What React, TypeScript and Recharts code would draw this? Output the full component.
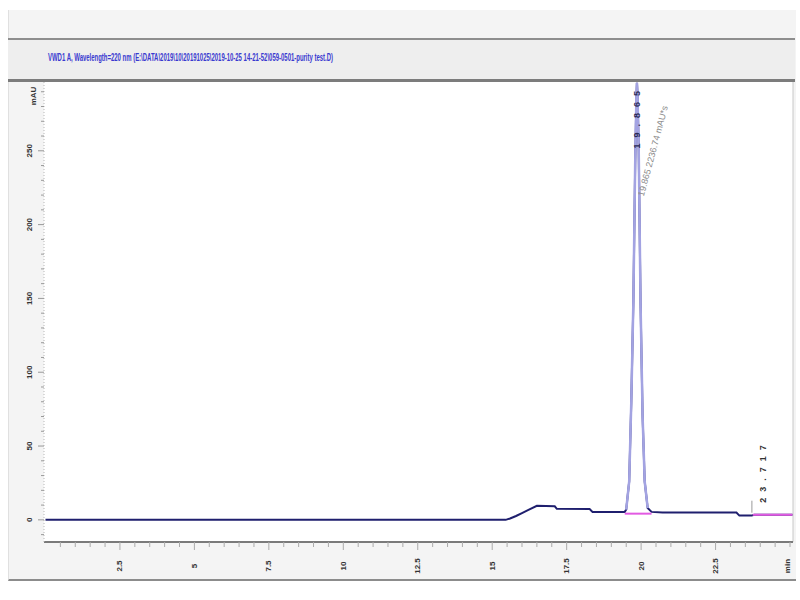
import React from 'react';
import { ComposedChart, Line, XAxis, YAxis, CartesianGrid, ReferenceDot, ReferenceLine } from 'recharts';

// retention time (min)
const times = [0, 15.45, 15.6, 15.8, 16.0, 16.2, 16.5, 17.1, 17.17, 18.27, 18.37, 19.45, 19.5, 19.6, 19.67, 19.74, 19.8, 19.84, 19.86, 19.88, 19.92, 19.98, 20.05, 20.12, 20.22, 20.35, 20.72, 23.2, 23.3, 23.71, 23.8, 25.08];
// detector signal (mAU)
const signal = [0, 0, 0.9, 2.6, 4.6, 6.6, 9.5, 9.2, 7.5, 7.3, 5.4, 5.4, 7, 26, 80, 148, 240, 285, 296, 288, 250, 148, 70, 26, 8, 5.4, 5.0, 5.0, 2.9, 2.9, 3.5, 3.5];

const peakStart = 19.5;
const peakEnd = 20.22;

const baseline1 = [{ t: 19.45, bl: 4.2 }, { t: 20.35, bl: 4.2 }];
const baseline2 = [{ t: 23.75, bl: 3.4 }, { t: 25.08, bl: 3.4 }];

const yLabels = [0, 50, 100, 150, 200, 250];
const xLabels = [2.5, 5, 7.5, 10, 12.5, 15, 17.5, 20, 22.5];
const yMinorStep = 10;
const xMinorStep = 0.5;

const peakApex = { t: 19.86, v: 296, rt: '19.865', info: '19.865  2236.74 mAU*s' };
const smallPeak = { t: 23.72, v: 3.5, rt: '23.717' };

const headerText = 'VWD1 A, Wavelength=220 nm (E:\\DATA\\2019\\10\\20191025\\2019-10-25 14-21-52\\059-0501-purity test.D)';

const Y_DOMAIN: [number, number] = [-15, 296.6];
const X_DOMAIN: [number, number] = [-0.05, 25.1];

const data = times.map((t, i) => ({
  t,
  v: signal[i],
  pk: t >= peakStart && t <= peakEnd ? signal[i] : null,
}));

const yTicks: number[] = [];
for (let v = -10; v <= 290; v += yMinorStep) yTicks.push(v);
const xTicks: number[] = [];
for (let k = 1; k * xMinorStep <= 25; k++) xTicks.push(k * xMinorStep);

const isLabel = (arr: number[], v: number) => arr.some((a) => Math.abs(a - v) < 1e-6);

const YTick = (props: any) => {
  const { x, y, payload } = props;
  const major = isLabel(yLabels, payload.value);
  return (
    <g>
      <line x1={x - (major ? 6 : 3)} x2={x} y1={y} y2={y} stroke="#999" strokeWidth={1} />
      {major && (
        <text
          x={x - 14}
          y={y}
          transform={`rotate(-90 ${x - 14} ${y})`}
          textAnchor="middle"
          dominantBaseline="central"
          fontSize={8}
          fontFamily="'Liberation Sans', sans-serif"
          fill="#333"
          fontWeight="bold"
        >
          {payload.value}
        </text>
      )}
    </g>
  );
};

const XTick = (props: any) => {
  const { x, y, payload } = props;
  const major = isLabel(xLabels, payload.value);
  return (
    <g>
      <line x1={x} x2={x} y1={y} y2={y + (major ? 8 : 5)} stroke="#aaa" strokeWidth={1} />
      {major && (
        <text
          x={x}
          y={y + 24}
          transform={`rotate(-90 ${x} ${y + 24})`}
          textAnchor="middle"
          dominantBaseline="central"
          fontSize={8}
          fontFamily="'Liberation Sans', sans-serif"
          fill="#333"
          fontWeight="bold"
        >
          {payload.value}
        </text>
      )}
    </g>
  );
};

const ApexLabel = (props: any) => {
  const vb = props.viewBox || {};
  const cx = (vb.x || 0) + (vb.width || 0) / 2;
  const cy = (vb.y || 0) + (vb.height || 0) / 2;
  return (
    <g>
      <text
        x={cx}
        y={cy + 2}
        transform={`rotate(-90 ${cx} ${cy + 2})`}
        textAnchor="end"
        dominantBaseline="central"
        fontSize={9}
        letterSpacing={6}
        fontFamily="'Liberation Sans', sans-serif"
        fontWeight="bold"
        fill="#2a2a55"
      >
        {peakApex.rt}
      </text>
      <text
        x={cx + 4}
        y={cy + 113}
        transform={`rotate(-75 ${cx + 4} ${cy + 113})`}
        textAnchor="start"
        dominantBaseline="central"
        fontSize={9}
        fontFamily="'Liberation Sans', sans-serif"
        fill="#8a8a8a"
      >
        {peakApex.info}
      </text>
    </g>
  );
};

const SmallPeakLabel = (props: any) => {
  const vb = props.viewBox || {};
  const cx = (vb.x || 0) + (vb.width || 0) / 2;
  const cy = (vb.y || 0) + (vb.height || 0) / 2;
  return (
    <g>
      <line x1={cx} x2={cx} y1={cy - 2} y2={cy - 14} stroke="#999" strokeWidth={1} />
      <text
        x={cx + 11}
        y={cy - 12}
        transform={`rotate(-90 ${cx + 11} ${cy - 12})`}
        textAnchor="start"
        dominantBaseline="central"
        fontSize={9}
        letterSpacing={6}
        fontFamily="'Liberation Sans', sans-serif"
        fontWeight="bold"
        fill="#333"
      >
        {smallPeak.rt}
      </text>
    </g>
  );
};

const XAxisLabel = (props: any) => {
  const vb = props.viewBox || {};
  const x = (vb.x || 0) + (vb.width || 0) - 6;
  const y = (vb.y || 0) + 24;
  return (
    <text
      x={x}
      y={y}
      transform={`rotate(-90 ${x} ${y})`}
      textAnchor="middle"
      dominantBaseline="central"
      fontSize={8}
      fontWeight="bold"
      fontFamily="'Liberation Sans', sans-serif"
      fill="#333"
    >
      min
    </text>
  );
};

const YAxisLabel = (props: any) => {
  const vb = props.viewBox || {};
  const x = (vb.x || 0) + (vb.width || 0) - 11;
  const y = (vb.y || 0) + 14;
  return (
    <text
      x={x}
      y={y}
      transform={`rotate(-90 ${x} ${y})`}
      textAnchor="middle"
      dominantBaseline="central"
      fontSize={8}
      fontWeight="bold"
      fontFamily="'Liberation Sans', sans-serif"
      fill="#333"
    >
      mAU
    </text>
  );
};

export default function App() {
  return (
    <div style={{ position: 'absolute', left: 0, top: 0, width: 800, height: 600, background: '#fff', overflow: 'hidden' }}>
      <div
        style={{
          position: 'absolute',
          left: 8,
          top: 10,
          width: 787,
          height: 569,
          background: '#f4f4f4',
          borderLeft: '1px solid #e0e0e0',
          borderBottom: '2px solid #8c8c8c',
        }}
      />
      <div
        style={{
          position: 'absolute',
          left: 8,
          top: 38,
          width: 787,
          height: 39,
          background: '#eeeeee',
          borderTop: '2px solid #8e8e8e',
          borderBottom: '3px solid #7c7c7c',
        }}
      />
      <svg style={{ position: 'absolute', left: 0, top: 0 }} width={800} height={80}>
        <text
          x={48}
          y={57}
          textLength={285}
          lengthAdjust="spacingAndGlyphs"
          dominantBaseline="central"
          fontSize={11}
          fontWeight="bold"
          fontFamily="'Liberation Sans', sans-serif"
          fill="#3a3ad0"
        >
          {headerText}
        </text>
      </svg>
      <div style={{ position: 'absolute', left: 0, top: 0 }}>
        <ComposedChart width={800} height={600} data={data} margin={{ top: 82, right: 7, left: 0, bottom: 0 }}>
          <CartesianGrid horizontal={false} vertical={false} fill="#ffffff" />
          <XAxis
            dataKey="t"
            type="number"
            domain={X_DOMAIN}
            ticks={xTicks}
            interval={0}
            height={58}
            tickSize={0}
            tickMargin={0}
            tickLine={false}
            tick={<XTick />}
            axisLine={{ stroke: '#7a7a7a', strokeWidth: 2 }}
            allowDataOverflow
            label={<XAxisLabel />}
          />
          <YAxis
            type="number"
            domain={Y_DOMAIN}
            ticks={yTicks}
            interval={0}
            width={44}
            tickSize={0}
            tickMargin={0}
            tickLine={false}
            tick={<YTick />}
            axisLine={{ stroke: '#b8b8b8', strokeDasharray: '1 2' }}
            allowDataOverflow
            label={<YAxisLabel />}
          />
          <ReferenceLine x={X_DOMAIN[1]} stroke="#c8c8c8" strokeWidth={1} />
          <Line dataKey="v" type="linear" stroke="#1f1f6e" strokeWidth={2} dot={false} isAnimationActive={false} />
          <Line dataKey="pk" type="linear" stroke="#a3a3e2" strokeWidth={2.5} dot={false} connectNulls={false} isAnimationActive={false} />
          <Line data={baseline1} dataKey="bl" type="linear" stroke="#e25ae2" strokeWidth={2} dot={false} isAnimationActive={false} />
          <Line data={baseline2} dataKey="bl" type="linear" stroke="#e25ae2" strokeWidth={2} dot={false} isAnimationActive={false} />
          <ReferenceDot x={peakApex.t} y={peakApex.v} r={1} fill="none" stroke="none" label={<ApexLabel />} />
          <ReferenceDot x={smallPeak.t} y={smallPeak.v} r={1} fill="none" stroke="none" label={<SmallPeakLabel />} />
        </ComposedChart>
      </div>
    </div>
  );
}
